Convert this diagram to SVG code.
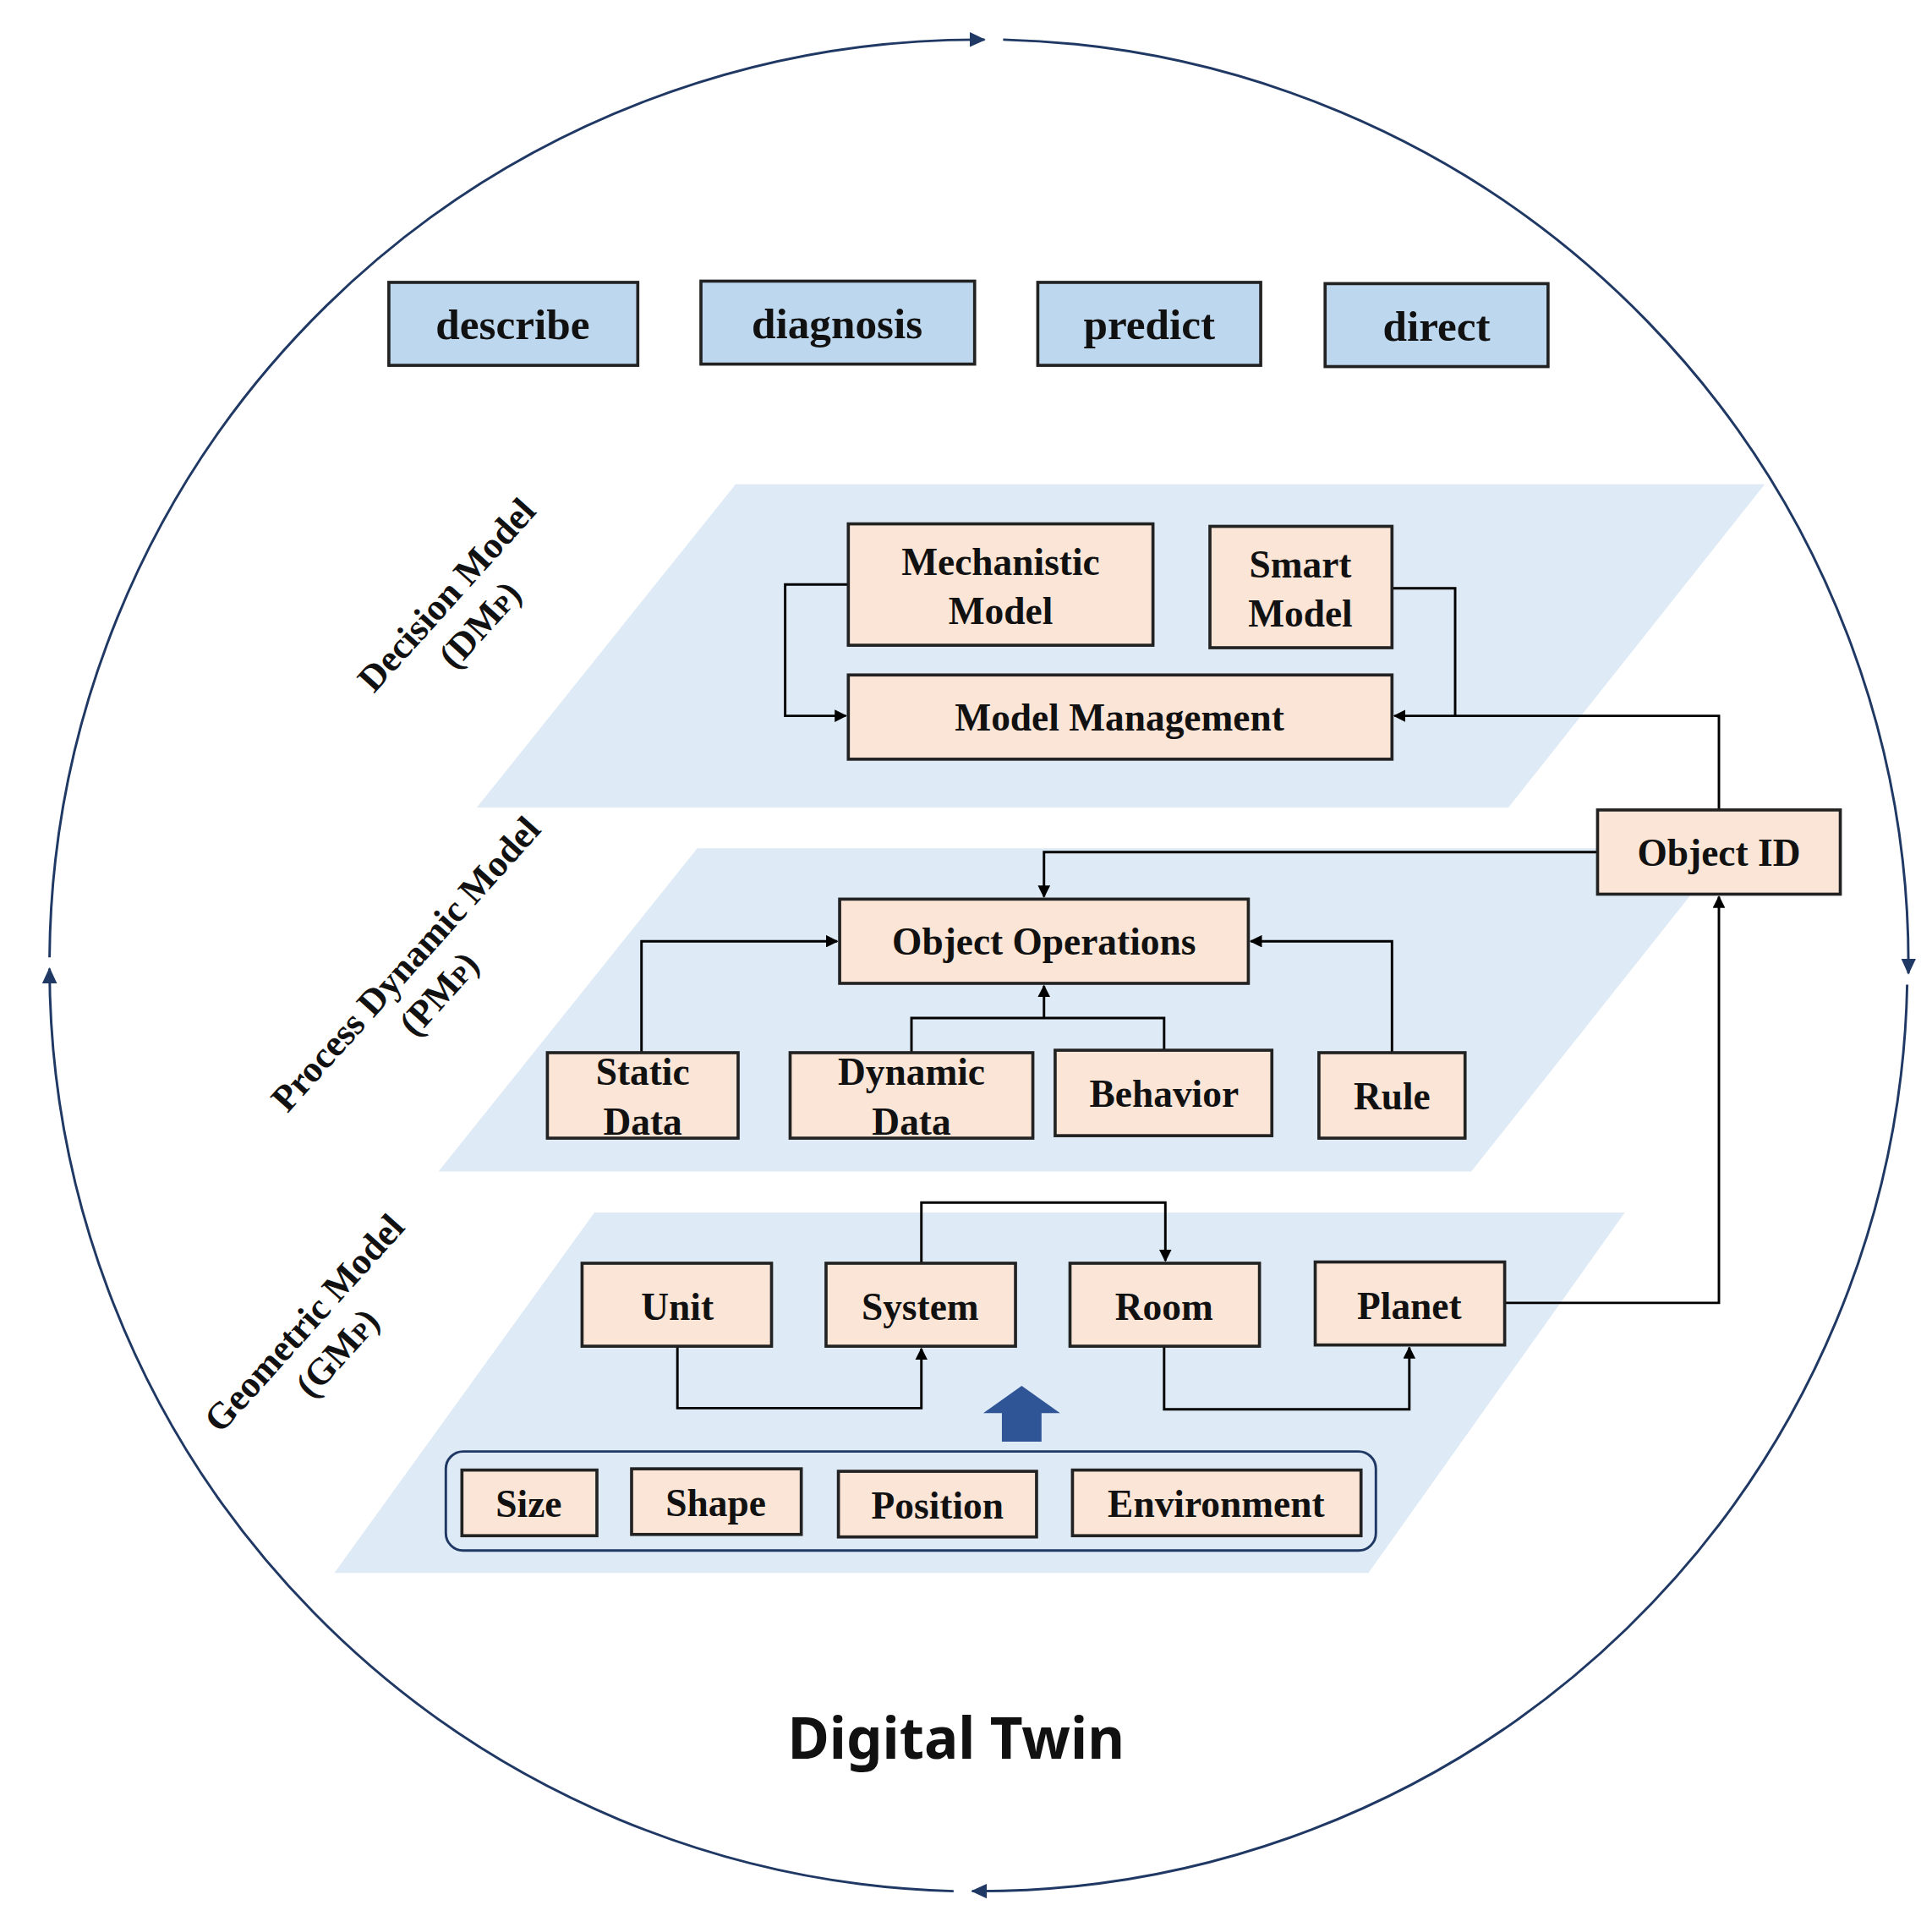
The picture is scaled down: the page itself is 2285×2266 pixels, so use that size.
<svg xmlns="http://www.w3.org/2000/svg" width="2285" height="2266" viewBox="0 0 2285 2266">
<defs>
<marker id="ah" markerWidth="10" markerHeight="10" refX="9" refY="5" orient="auto" markerUnits="userSpaceOnUse"><path d="M0,0 L10,5 L0,10 z" fill="#000"/></marker>
<marker id="ch" markerWidth="14" markerHeight="14" refX="12" refY="7" orient="auto" markerUnits="userSpaceOnUse"><path d="M0,1 L13,7 L0,13 z" fill="#1f3864"/></marker>
<style>
.b{fill:#bdd7ee;stroke:#222;stroke-width:2.5}
.p{fill:#fbe5d6;stroke:#222;stroke-width:2.5}
.pl{fill:#deeaf6}
.t{font-family:"Liberation Serif",serif;font-weight:bold;font-size:31px;text-anchor:middle;fill:#111}
.bt{font-size:35px}
.c{fill:none;stroke:#000;stroke-width:2}
.lab{font-family:"Liberation Serif",serif;font-weight:bold;font-size:30px;text-anchor:middle;fill:#111}
</style>
</defs>
<rect width="2285" height="2266" fill="#fff"/>
<g transform="scale(1.4647)">
<g id="cycle" fill="none" stroke="#1f3864" stroke-width="2">
<path d="M40,773 A750,747 0 0 1 795,32" marker-end="url(#ch)"/>
<path d="M810,32 A750,747 0 0 1 1541,786" marker-end="url(#ch)"/>
<path d="M1540,795 A750,747 0 0 1 785,1527" marker-end="url(#ch)"/>
<path d="M770,1527 A750,747 0 0 1 40,782" marker-end="url(#ch)"/>
</g>
<g id="planes">
<polygon class="pl" points="594,391 1425,391 1218,652 385,652"/>
<polygon class="pl" points="563,685 1395,685 1188,946 354,946"/>
<polygon class="pl" points="480,979 1312,979 1105,1270 270,1270"/>
</g>
<g id="labels">
<g transform="translate(368,487) rotate(-48)"><text class="lab">Decision Model</text><text class="lab" y="36">(DM<tspan font-size="20">P</tspan>)</text></g>
<g transform="translate(335,785) rotate(-48)"><text class="lab">Process Dynamic Model</text><text class="lab" y="36">(PM<tspan font-size="20">P</tspan>)</text></g>
<g transform="translate(253,1075) rotate(-48)"><text class="lab">Geometric Model</text><text class="lab" y="36">(GM<tspan font-size="20">P</tspan>)</text></g>
</g>
<g id="describe"><rect class="b" x="314" y="228" width="201" height="67"/><text class="t bt" x="414" y="274">describe</text></g>
<g id="diagnosis"><rect class="b" x="566" y="227" width="221" height="67"/><text class="t bt" x="676" y="273">diagnosis</text></g>
<g id="predict"><rect class="b" x="838" y="228" width="180" height="67"/><text class="t bt" x="928" y="274">predict</text></g>
<g id="direct"><rect class="b" x="1070" y="229" width="180" height="67"/><text class="t bt" x="1160" y="275">direct</text></g>
<g id="connectors">
<path class="c" d="M685,472 H634 V578 H683" marker-end="url(#ah)"/>
<path class="c" d="M1124,475 H1175 V578"/>
<path class="c" d="M1388,654 V578 H1126" marker-end="url(#ah)"/>
<path class="c" d="M1290,688 H843 V724" marker-end="url(#ah)"/>
<path class="c" d="M518,850 V760 H676" marker-end="url(#ah)"/>
<path class="c" d="M1124,850 V760 H1010" marker-end="url(#ah)"/>
<path class="c" d="M736,850 V822 H940 V848"/>
<path class="c" d="M843,822 V796" marker-end="url(#ah)"/>
<path class="c" d="M744,1020 V971 H941 V1018" marker-end="url(#ah)"/>
<path class="c" d="M547,1087 V1137 H744 V1089" marker-end="url(#ah)"/>
<path class="c" d="M940,1087 V1138 H1138 V1088" marker-end="url(#ah)"/>
<path class="c" d="M1215,1052 H1388 V724" marker-end="url(#ah)"/>
</g>
<g id="mechanistic"><rect class="p" x="685" y="423" width="246" height="98"/><text class="t" x="808" y="464">Mechanistic</text><text class="t" x="808" y="504">Model</text></g>
<g id="smart"><rect class="p" x="977" y="425" width="147" height="98"/><text class="t" x="1050" y="466">Smart</text><text class="t" x="1050" y="506">Model</text></g>
<g id="modelmgmt"><rect class="p" x="685" y="545" width="439" height="68"/><text class="t" x="904" y="590">Model Management</text></g>
<g id="objectid"><rect class="p" x="1290" y="654" width="196" height="68"/><text class="t" x="1388" y="699">Object ID</text></g>
<g id="objops"><rect class="p" x="678" y="726" width="330" height="68"/><text class="t" x="843" y="771">Object Operations</text></g>
<g id="static"><rect class="p" x="442" y="850" width="154" height="69"/><text class="t" x="519" y="876">Static</text><text class="t" x="519" y="916">Data</text></g>
<g id="dynamic"><rect class="p" x="638" y="850" width="196" height="69"/><text class="t" x="736" y="876">Dynamic</text><text class="t" x="736" y="916">Data</text></g>
<g id="behavior"><rect class="p" x="852" y="848" width="175" height="69"/><text class="t" x="940" y="894">Behavior</text></g>
<g id="rule"><rect class="p" x="1065" y="850" width="118" height="69"/><text class="t" x="1124" y="896">Rule</text></g>
<g id="unit"><rect class="p" x="470" y="1020" width="153" height="67"/><text class="t" x="547" y="1066">Unit</text></g>
<g id="system"><rect class="p" x="667" y="1020" width="153" height="67"/><text class="t" x="743" y="1066">System</text></g>
<g id="room"><rect class="p" x="864" y="1020" width="153" height="67"/><text class="t" x="940" y="1066">Room</text></g>
<g id="planet"><rect class="p" x="1062" y="1019" width="153" height="67"/><text class="t" x="1138" y="1065">Planet</text></g>
<g id="bigarrow"><polygon points="825,1119 856,1141 841,1141 841,1164 809,1164 809,1141 794,1141" fill="#2f5597"/></g>
<g id="attributes"><rect x="360" y="1172" width="751" height="80" rx="14" fill="none" stroke="#1f3864" stroke-width="2"/></g>
<g id="size"><rect class="p" x="373" y="1187" width="109" height="53"/><text class="t" x="427" y="1225">Size</text></g>
<g id="shape"><rect class="p" x="510" y="1186" width="137" height="53"/><text class="t" x="578" y="1224">Shape</text></g>
<g id="position"><rect class="p" x="677" y="1188" width="160" height="53"/><text class="t" x="757" y="1226">Position</text></g>
<g id="environment"><rect class="p" x="866" y="1187" width="233" height="53"/><text class="t" x="982" y="1225">Environment</text></g>
<text x="772" y="1420" font-family="'Noto Sans','Open Sans',sans-serif" font-weight="bold" font-size="46" text-anchor="middle" fill="#111">Digital Twin</text>
</g>
</svg>
